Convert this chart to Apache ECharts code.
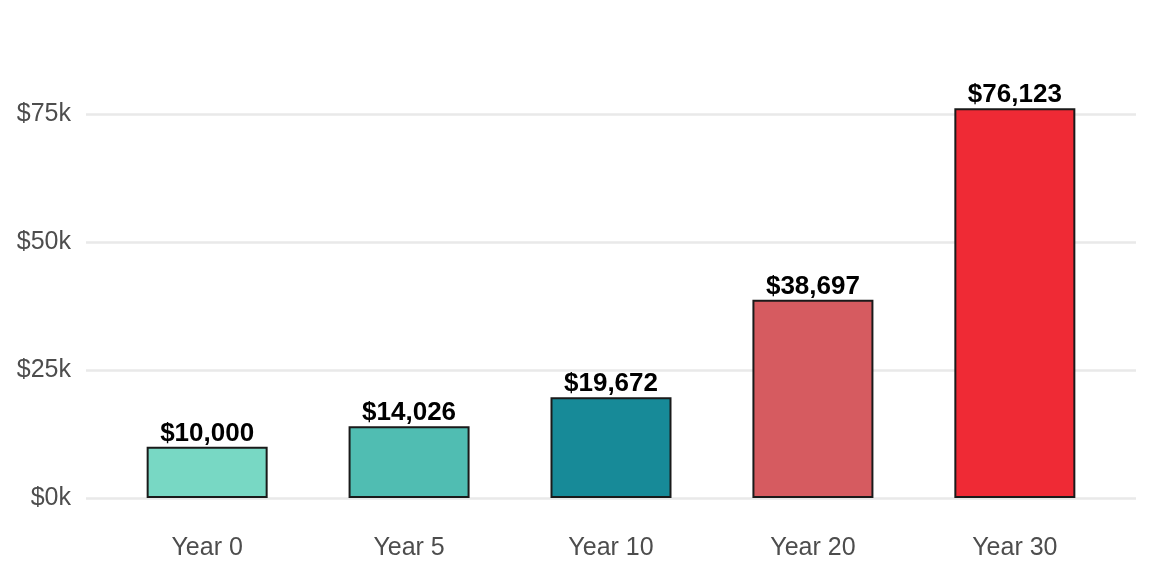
<!DOCTYPE html>
<html>
<head>
<meta charset="utf-8">
<script src="https://cdn.jsdelivr.net/npm/echarts@6/dist/echarts.min.js"></script>
<style>
  html, body { margin: 0; padding: 0; background: #fff; }
  #chart { width: 1152px; height: 576px; }
</style>
</head>
<body>
<div id="chart"></div>
<script>
const categories = ['Year 0', 'Year 5', 'Year 10', 'Year 20', 'Year 30'];
const values = [10000, 14026, 19672, 38697, 76123];
const barColors = ['#78d8c4', '#50bdb2', '#178a98', '#d65b60', '#ef2a35'];

const chart = echarts.init(document.getElementById('chart'));
const font = '"Liberation Sans", Arial, sans-serif';

const option = {
  animation: false,
  // plot spans $0k..$75k, the tallest bar is allowed past the top edge
  grid: {left: 86, right: 16, top: 114, bottom: 78},
  xAxis: {
    type: 'value',
    min: 0.4,
    max: 5.6,
    axisLine: {show: false},
    axisTick: {show: false},
    splitLine: {show: false},
    axisLabel: {
      customValues: [1, 2, 3, 4, 5],
      formatter: v => categories[Math.round(v) - 1],
      color: '#4d4d4d',
      fontSize: 25,
      fontFamily: font,
      margin: 38
    }
  },
  yAxis: {
    type: 'value',
    min: 0,
    max: 75000,
    interval: 25000,
    axisLine: {show: false},
    axisTick: {show: false},
    splitLine: {lineStyle: {color: '#e9e9e9', width: 2.5}},
    axisLabel: {
      formatter: v => '$' + (v / 1000) + 'k',
      color: '#4d4d4d',
      fontSize: 25,
      fontFamily: font,
      margin: 15
    }
  },
  series: [{
    type: 'bar',
    barWidth: 121,
    clip: false,
    data: values.map((v, i) => ({
      value: [i + 1, v],
      itemStyle: {color: barColors[i]}
    })),
    itemStyle: {borderColor: '#1a1a1a', borderWidth: 2},
    label: {
      show: true,
      position: 'top',
      distance: 0,
      color: '#000',
      fontWeight: 'bold',
      fontSize: 26,
      fontFamily: font,
      formatter: p => '$' + p.value[1].toLocaleString('en-US')
    }
  }]
};
chart.setOption(option);
</script>
</body>
</html>
